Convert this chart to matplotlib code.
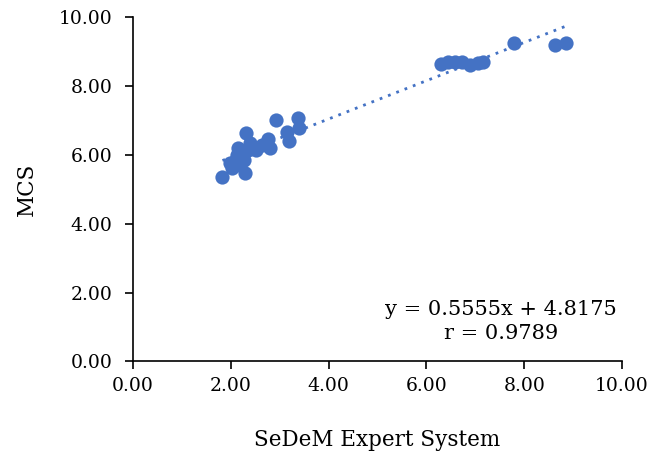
import numpy as np
import matplotlib.pyplot as plt

plt.rcParams['font.family'] = ['DejaVu Serif']

# SeDeM index (x) vs MCS (y)
sedem = [1.83, 1.98, 2.02, 2.13, 2.15, 2.19, 2.27, 2.29, 2.32, 2.35, 2.39,
         2.52, 2.64, 2.77, 2.80, 2.92, 3.14, 3.20, 3.38, 3.39,
         6.30, 6.45, 6.58, 6.72, 6.90, 7.05, 7.15,
         7.80, 8.62, 8.85]
mcs = [5.36, 5.75, 5.61, 5.98, 6.19, 5.69, 5.85, 5.46, 6.62, 6.14, 6.34,
       6.14, 6.28, 6.45, 6.19, 7.01, 6.67, 6.40, 7.06, 6.78,
       8.65, 8.70, 8.70, 8.68, 8.62, 8.66, 8.68,
       9.24, 9.19, 9.24]

slope, intercept = 0.5555, 4.8175
r_value = 0.9789

fig = plt.figure(figsize=(6.58, 4.55), dpi=100)
ax = fig.add_axes([0.2021, 0.2055, 0.7432, 0.7571])

ax.scatter(sedem, mcs, s=105, color="#4472C4", zorder=3, linewidths=0)

xt = np.array([min(sedem), max(sedem)])
ax.plot(xt, slope * xt + intercept, color="#4472C4", linestyle=(0, (1, 2.2)),
        linewidth=2, zorder=2)

ax.set_xlim(0, 10)
ax.set_ylim(0, 10)
ax.set_xticks(np.arange(0, 11, 2))
ax.set_yticks(np.arange(0, 11, 2))
ax.set_xticklabels([f"{v:.2f}" for v in np.arange(0, 11, 2)])
ax.set_yticklabels([f"{v:.2f}" for v in np.arange(0, 11, 2)])

for s in ["top", "right"]:
    ax.spines[s].set_visible(False)
for s in ["left", "bottom"]:
    ax.spines[s].set_linewidth(1.2)
ax.tick_params(direction="out", length=6, width=1.2, labelsize=13.5, pad=5)
ax.tick_params(axis="y", pad=9)

ax.set_xlabel("SeDeM Expert System", fontsize=15.5, labelpad=25)
ax.set_ylabel("MCS", fontsize=15.5, labelpad=15)

ax.text(7.52, 1.17, f"y = {slope}x + {intercept}\nr = {r_value}",
        ha="center", va="center", fontsize=15, linespacing=1.35)

fig.savefig("out.png", dpi=100)
